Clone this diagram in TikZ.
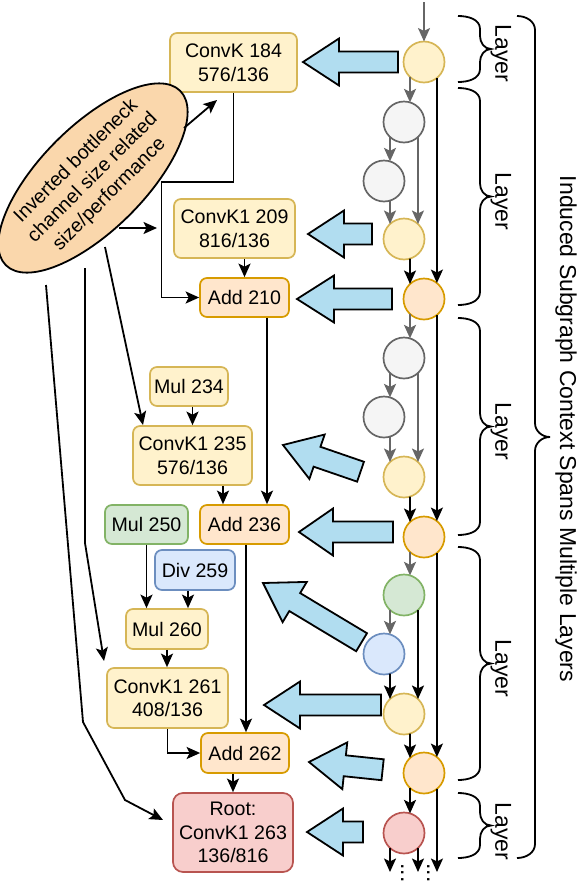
\documentclass[tikz,border=0pt]{standalone}
\usepackage{fontspec}
\setmainfont{Liberation Sans}
\usetikzlibrary{arrows.meta,shapes.geometric,calc}
\definecolor{yfill}{HTML}{FFF2CC}\definecolor{ydraw}{HTML}{D6B656}
\definecolor{ofill}{HTML}{FFE6CC}\definecolor{odraw}{HTML}{D79B00}
\definecolor{gfill}{HTML}{F5F5F5}\definecolor{gdraw}{HTML}{666666}
\definecolor{grfill}{HTML}{D5E8D4}\definecolor{grdraw}{HTML}{82B366}
\definecolor{bfill}{HTML}{DAE8FC}\definecolor{bdraw}{HTML}{6C8EBF}
\definecolor{rfill}{HTML}{F8CECC}\definecolor{rdraw}{HTML}{B85450}
\definecolor{efill}{HTML}{FAD7AC}
\definecolor{afill}{HTML}{B1DDF0}
\newcommand{\boxfont}{\fontsize{19.6}{23.5}\selectfont}
\newcommand{\lblfont}{\fontsize{23}{27}\selectfont}
\newcommand{\fatarrow}[5]{%
  \begin{scope}[shift={(#1,-#2)},rotate=#5]
    \draw[fatarr] (0,0) -- (#4,23.5) -- (#4,10.5) -- (#3,10.5) -- (#3,-10.5) -- (#4,-10.5) -- (#4,-23.5) -- cycle;
  \end{scope}}
\newcommand{\layerbr}[6]{%
  \draw[bracel] (#1,-#2) to[out=0,in=90] ({#1+#4},{-#2-#6}) -- ({#1+#4},{-(#2+#3)/2+#6})
    to[out=-90,in=180] ({#1+#4+#5},{-(#2+#3)/2}) to[out=180,in=90] ({#1+#4},{-(#2+#3)/2-#6})
    -- ({#1+#4},{-#3+#6}) to[out=-90,in=0] (#1,-#3);}
\begin{document}
\begin{tikzpicture}[x=1pt,y=1pt,
  boxs/.style={rounded corners=7pt,line width=1.7pt,align=center,inner sep=0pt,font=\boxfont},
  yel/.style={fill=yfill,draw=ydraw},
  org/.style={fill=ofill,draw=odraw},
  grn/.style={fill=grfill,draw=grdraw},
  blu/.style={fill=bfill,draw=bdraw},
  red/.style={fill=rfill,draw=rdraw},
  gry/.style={fill=gfill,draw=gdraw},
  cnode/.style={circle,minimum size=41pt,inner sep=0pt,outer sep=0pt,line width=1.7pt},
  conn/.style={line width=1.8pt,-{Stealth[length=13.5pt,width=12pt,inset=3pt]}},
  gconn/.style={conn,draw=gdraw,color=gdraw},
  fatarr/.style={fill=afill,draw=black,line width=1.8pt,line join=miter},
  bracel/.style={line width=1.8pt},
  lbl/.style={font=\lblfont,inner sep=0pt}]
\useasboundingbox (0,0) rectangle (580,-884);

% big arrows
\fatarrow{303}{62}{95}{36}{0}
\fatarrow{308}{234}{64}{36}{0}
\fatarrow{297}{299}{95}{37}{0}
\fatarrow{283}{445}{82}{36}{-19}
\fatarrow{299}{532}{94}{34}{0}
\fatarrow{263}{583}{115}{37}{-31}
\fatarrow{264}{705}{117}{36}{0}
\fatarrow{309}{762}{74}{36}{-6}
\fatarrow{307}{832}{56}{36}{0}

% boxes
\node[boxs,yel,minimum width=127pt,minimum height=59pt] (CK184) at (233.5,-62.5) {ConvK 184\\576/136};
\node[boxs,yel,minimum width=121pt,minimum height=59pt] (CK209) at (234.5,-228.5) {ConvK1 209\\816/136};
\node[boxs,org,minimum width=89pt,minimum height=39pt] (A210) at (244.5,-297.5) {Add 210};
\node[boxs,yel,minimum width=78pt,minimum height=39pt] (M234) at (189,-386.5) {Mul 234};
\node[boxs,yel,minimum width=119pt,minimum height=59pt] (CK235) at (192.5,-455.5) {ConvK1 235\\576/136};
\node[boxs,grn,minimum width=83pt,minimum height=39pt] (M250) at (146.5,-524.5) {Mul 250};
\node[boxs,org,minimum width=89pt,minimum height=39pt] (A236) at (244.5,-524.5) {Add 236};
\node[boxs,blu,minimum width=80pt,minimum height=40pt] (D259) at (195,-570) {Div 259};
\node[boxs,yel,minimum width=82pt,minimum height=40pt] (M260) at (167,-629) {Mul 260};
\node[boxs,yel,minimum width=121pt,minimum height=60pt] (CK261) at (167.5,-698) {ConvK1 261\\408/136};
\node[boxs,org,minimum width=88pt,minimum height=40pt] (A262) at (245,-753) {Add 262};
\node[boxs,red,minimum width=120pt,minimum height=79pt,rounded corners=10pt] (ROOT) at (233,-832.5) {Root:\\ConvK1 263\\136/816};

% ellipse
\node[ellipse,draw=black,fill=efill,line width=1.8pt,minimum width=216pt,minimum height=104pt,
  rotate=45,align=center,inner sep=0pt,font=\boxfont] (ELL) at (93,-178)
  {Inverted bottleneck\\channel size related\\size/performance};

% circles
\node[cnode,yel] (C1) at (424,-62) {};
\node[cnode,gry] (G1) at (404,-122) {};
\node[cnode,gry] (G2) at (384,-181) {};
\node[cnode,yel] (Y2) at (404,-239) {};
\node[cnode,org] (O1) at (424,-299) {};
\node[cnode,gry] (G3) at (404,-358) {};
\node[cnode,gry] (G4) at (384,-417) {};
\node[cnode,yel] (Y3) at (404,-477) {};
\node[cnode,org] (O2) at (424,-537) {};
\node[cnode,grn] (GR) at (404,-595) {};
\node[cnode,blu] (BL) at (384,-654) {};
\node[cnode,yel] (Y4) at (404,-714) {};
\node[cnode,org] (O3) at (424,-773) {};
\node[cnode,red] (RD) at (404,-833) {};

% right column connectors
\coordinate (in0) at (424,-2);
\draw[gconn] (in0) -- (C1.north);
\draw[gconn] (C1.227) -- (G1.73);
\draw[conn] (C1.309) -- (O1.51);
\draw[gconn] (G1.227) -- (G2.73);
\draw[gconn] (G1.313) -- (Y2.47);
\draw[gconn] (G2.287) -- (Y2.133);
\draw[conn] (Y2.287) -- (O1.133);
\draw[gconn] (O1.227) -- (G3.73);
\draw[conn] (O1.309) -- (O2.51);
\draw[gconn] (G3.227) -- (G4.73);
\draw[gconn] (G3.313) -- (Y3.47);
\draw[gconn] (G4.287) -- (Y3.133);
\draw[conn] (Y3.287) -- (O2.133);
\draw[gconn] (O2.227) -- (GR.73);
\draw[conn] (O2.309) -- (O3.51);
\draw[gconn] (GR.227) -- (BL.73);
\draw[conn] (GR.313) -- (Y4.47);
\draw[conn] (BL.287) -- (Y4.133);
\draw[conn] (Y4.287) -- (O3.133);
\draw[conn] (O3.227) -- (RD.73);
\coordinate (out1) at (390,-872);
\coordinate (out2) at (418,-872);
\coordinate (out3) at (437,-872);
\draw[conn] (RD.227) -- (out1);
\draw[conn] (RD.313) -- (out2);
\draw[conn] (O3.309) -- (out3);
\node[lbl,rotate=-90,anchor=base] (DT1) at (401,-873) {...};
\node[lbl,rotate=-90,anchor=base] (DT2) at (427,-873) {...};

% left connectors
\coordinate (e1) at (184,-128); \coordinate (t1) at (217,-100);
\draw[conn] (e1) -- (t1);
\coordinate (e2) at (119,-228); \coordinate (t2) at (157,-228);
\draw[conn] (e2) -- (t2);
\coordinate (e3) at (105,-247); \coordinate (t3) at (143,-425);
\draw[conn] (e3) -- (t3);
\coordinate (e4) at (85,-268); \coordinate (t4) at (104,-661);
\draw[conn] (e4) -- (85,-543) -- (t4);
\coordinate (e5) at (46,-285); \coordinate (t5) at (163,-820);
\draw[conn] (e5) -- (83,-722) -- (125,-800) -- (t5);

% middle connectors
\draw[conn] (CK184.south) -- ++(0,-89) -- ++(-72,0) |- (A210.west);
\draw[conn] (CK209.south -| A210.north) -- (A210.north);
\draw[conn] (M234.south -| CK235.north) -- (CK235.north);
\draw[conn] ($(A210.south)+(22.5,0)$) -- ($(A236.north)+(22.5,0)$);
\draw[conn] ($(A236.north |- CK235.south)+(-21.5,0)$) -- ($(A236.north)+(-21.5,0)$);
\draw[conn] (M250.south) -- (M250.south |- M260.north);
\draw[conn] ($(D259.south)+(-7,0)$) -- ($(D259.south |- M260.north)+(-7,0)$);
\draw[conn] ($(A236.south)+(1.5,0)$) -- ($(A236.south |- A262.north)+(1.5,0)$);
\draw[conn] (M260.south) -- (M260.south |- CK261.north);
\draw[conn] (CK261.south) |- (A262.west);
\draw[conn] (A262.south -| ROOT.north) -- (ROOT.north);

% braces
\layerbr{458}{16}{82}{22}{11}{13}
\layerbr{458}{88}{305}{22}{11}{13}
\layerbr{458}{318}{535}{22}{11}{13}
\layerbr{458}{547}{780}{22}{11}{13}
\layerbr{458}{793}{858}{22}{11}{13}
\layerbr{517}{16}{858}{18}{15}{14}
\node[lbl,rotate=-90] (LY1) at (501,-53.5) {Layer};
\node[lbl,rotate=-90] (LY2) at (501,-201.5) {Layer};
\node[lbl,rotate=-90] (LY3) at (501,-431.5) {Layer};
\node[lbl,rotate=-90] (LY4) at (501,-668.5) {Layer};
\node[lbl,rotate=-90] (LY5) at (501,-831.5) {Layer};
\node[lbl,rotate=-90] (BIG) at (566,-429) {Induced Subgraph Context Spans Multiple Layers};
\end{tikzpicture}
\end{document}
